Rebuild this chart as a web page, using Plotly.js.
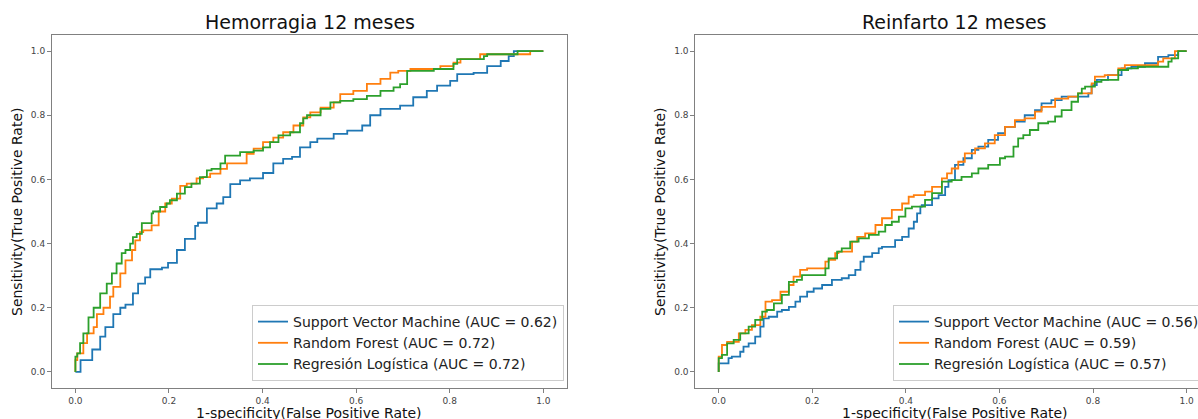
<!DOCTYPE html>
<html>
<head>
<meta charset="utf-8">
<script src="https://cdn.plot.ly/plotly-3.0.1.min.js"></script>
<style>
html, body { margin: 0; padding: 0; background: #fff; overflow: hidden; }
#chart { width: 1230px; height: 419px; }
</style>
</head>
<body>
<div id="chart"></div>
<script>
// ---- Data ----
const panelTitles = ["Hemorragia 12 meses", "Reinfarto 12 meses"];
const seriesNames = ["Support Vector Machine", "Random Forest", "Regresión Logística"];
const hemAuc = [0.62, 0.72, 0.72];
const reiAuc = [0.56, 0.59, 0.57];
const tickVals = [0, 0.2, 0.4, 0.6, 0.8, 1.0];

const hemSvmX = [0, 0.011, 0.011, 0.036, 0.053, 0.064, 0.081, 0.096, 0.107, 0.123, 0.134, 0.149, 0.16, 0.185, 0.198, 0.217, 0.234, 0.256, 0.262, 0.281, 0.302, 0.316, 0.331, 0.352, 0.373, 0.401, 0.423, 0.444, 0.463, 0.48, 0.502, 0.517, 0.552, 0.581, 0.613, 0.63, 0.652, 0.694, 0.722, 0.751, 0.773, 0.801, 0.816, 0.851, 0.88, 0.909, 0.926, 0.937, 0.948, 1.0];
const hemSvmY = [0, 0, 0.037, 0.037, 0.07, 0.11, 0.14, 0.18, 0.20, 0.21, 0.245, 0.275, 0.295, 0.32, 0.325, 0.34, 0.38, 0.415, 0.455, 0.465, 0.51, 0.525, 0.545, 0.585, 0.597, 0.603, 0.62, 0.65, 0.664, 0.67, 0.70, 0.716, 0.727, 0.742, 0.752, 0.768, 0.80, 0.82, 0.83, 0.856, 0.876, 0.892, 0.907, 0.928, 0.932, 0.953, 0.969, 0.984, 1.0, 1.0];

const hemRfX = [0, 0.004, 0.017, 0.025, 0.039, 0.046, 0.06, 0.074, 0.081, 0.096, 0.107, 0.121, 0.128, 0.138, 0.145, 0.163, 0.178, 0.192, 0.206, 0.224, 0.238, 0.259, 0.273, 0.288, 0.31, 0.324, 0.345, 0.366, 0.381, 0.401, 0.423, 0.444, 0.466, 0.487, 0.502, 0.524, 0.552, 0.566, 0.594, 0.623, 0.652, 0.673, 0.69, 0.716, 0.78, 0.808, 0.823, 0.865, 0.876, 0.972, 0.975, 1.0];
const hemRfY = [0, 0.037, 0.058, 0.09, 0.12, 0.14, 0.18, 0.20, 0.235, 0.265, 0.307, 0.348, 0.38, 0.41, 0.436, 0.441, 0.457, 0.50, 0.525, 0.54, 0.58, 0.587, 0.603, 0.607, 0.618, 0.633, 0.65, 0.65, 0.68, 0.696, 0.716, 0.73, 0.747, 0.768, 0.793, 0.809, 0.824, 0.84, 0.866, 0.876, 0.898, 0.913, 0.933, 0.938, 0.944, 0.953, 0.964, 0.975, 0.99, 0.99, 1.0, 1.0];

const hemLrX = [0, 0.004, 0.01, 0.017, 0.028, 0.039, 0.053, 0.067, 0.078, 0.088, 0.099, 0.107, 0.117, 0.123, 0.131, 0.142, 0.145, 0.163, 0.166, 0.181, 0.195, 0.202, 0.217, 0.234, 0.248, 0.266, 0.281, 0.291, 0.31, 0.32, 0.352, 0.381, 0.401, 0.416, 0.434, 0.459, 0.48, 0.487, 0.495, 0.524, 0.545, 0.566, 0.594, 0.623, 0.652, 0.68, 0.694, 0.709, 0.709, 0.766, 0.808, 0.816, 0.873, 0.88, 0.945, 0.948, 1.0];
const hemLrY = [0, 0.048, 0.058, 0.09, 0.12, 0.17, 0.20, 0.245, 0.275, 0.307, 0.338, 0.37, 0.38, 0.40, 0.42, 0.43, 0.464, 0.464, 0.494, 0.50, 0.514, 0.525, 0.535, 0.556, 0.576, 0.587, 0.607, 0.628, 0.633, 0.65, 0.674, 0.685, 0.69, 0.70, 0.716, 0.737, 0.747, 0.775, 0.79, 0.80, 0.82, 0.84, 0.845, 0.85, 0.86, 0.876, 0.887, 0.897, 0.933, 0.938, 0.944, 0.96, 0.975, 0.984, 0.99, 1.0, 1.0];

const reiSvmX = [0, 0.007, 0.021, 0.028, 0.046, 0.053, 0.064, 0.078, 0.089, 0.096, 0.107, 0.125, 0.135, 0.15, 0.164, 0.174, 0.189, 0.203, 0.221, 0.242, 0.263, 0.278, 0.292, 0.303, 0.31, 0.328, 0.342, 0.349, 0.377, 0.392, 0.406, 0.417, 0.424, 0.431, 0.434, 0.456, 0.47, 0.484, 0.491, 0.505, 0.523, 0.541, 0.555, 0.576, 0.597, 0.612, 0.633, 0.654, 0.676, 0.69, 0.711, 0.733, 0.754, 0.79, 0.797, 0.808, 0.832, 0.861, 0.882, 0.911, 0.939, 0.961, 0.982, 1.0];
const reiSvmY = [0, 0.027, 0.027, 0.043, 0.048, 0.063, 0.079, 0.089, 0.11, 0.141, 0.167, 0.172, 0.188, 0.193, 0.203, 0.219, 0.235, 0.25, 0.26, 0.271, 0.287, 0.292, 0.302, 0.318, 0.344, 0.359, 0.37, 0.385, 0.39, 0.411, 0.421, 0.447, 0.468, 0.494, 0.515, 0.52, 0.541, 0.551, 0.577, 0.598, 0.645, 0.666, 0.692, 0.702, 0.723, 0.744, 0.764, 0.78, 0.80, 0.816, 0.837, 0.847, 0.858, 0.858, 0.868, 0.894, 0.91, 0.925, 0.946, 0.951, 0.962, 0.982, 0.987, 1.0];

const reiRfX = [0, 0.007, 0.018, 0.028, 0.043, 0.057, 0.071, 0.089, 0.1, 0.114, 0.132, 0.15, 0.16, 0.174, 0.189, 0.228, 0.235, 0.249, 0.256, 0.285, 0.296, 0.313, 0.335, 0.349, 0.37, 0.392, 0.406, 0.417, 0.441, 0.456, 0.477, 0.488, 0.498, 0.512, 0.526, 0.548, 0.569, 0.59, 0.612, 0.633, 0.654, 0.676, 0.69, 0.719, 0.747, 0.768, 0.797, 0.804, 0.825, 0.854, 0.868, 0.882, 0.939, 0.95, 0.975, 1.0];
const reiRfY = [0, 0.048, 0.084, 0.094, 0.094, 0.12, 0.131, 0.146, 0.172, 0.219, 0.224, 0.25, 0.271, 0.297, 0.318, 0.323, 0.344, 0.349, 0.37, 0.375, 0.406, 0.421, 0.432, 0.458, 0.479, 0.505, 0.525, 0.546, 0.551, 0.562, 0.577, 0.603, 0.619, 0.634, 0.655, 0.681, 0.697, 0.712, 0.738, 0.764, 0.785, 0.79, 0.811, 0.826, 0.852, 0.858, 0.868, 0.899, 0.92, 0.925, 0.946, 0.956, 0.956, 0.967, 0.977, 1.0];

const reiLrX = [0, 0.007, 0.018, 0.032, 0.046, 0.064, 0.078, 0.093, 0.103, 0.118, 0.135, 0.15, 0.167, 0.178, 0.228, 0.235, 0.253, 0.263, 0.281, 0.299, 0.321, 0.342, 0.356, 0.37, 0.385, 0.399, 0.413, 0.441, 0.456, 0.477, 0.498, 0.519, 0.541, 0.555, 0.576, 0.601, 0.612, 0.63, 0.64, 0.651, 0.665, 0.683, 0.704, 0.719, 0.733, 0.754, 0.768, 0.776, 0.783, 0.804, 0.818, 0.854, 0.875, 0.896, 0.918, 0.961, 0.968, 0.982, 1.0];
const reiLrY = [0, 0.043, 0.053, 0.089, 0.1, 0.12, 0.141, 0.162, 0.188, 0.193, 0.214, 0.24, 0.281, 0.287, 0.302, 0.323, 0.354, 0.375, 0.385, 0.406, 0.416, 0.427, 0.437, 0.458, 0.468, 0.484, 0.51, 0.515, 0.536, 0.557, 0.593, 0.598, 0.608, 0.619, 0.634, 0.645, 0.666, 0.671, 0.702, 0.728, 0.738, 0.754, 0.775, 0.78, 0.796, 0.816, 0.842, 0.868, 0.883, 0.889, 0.904, 0.91, 0.941, 0.946, 0.951, 0.951, 0.967, 0.977, 1.0];

// ---- Styling ----
const colors = ["#1f77b4", "#ff7f0e", "#2ca02c"];
const FONT = "DejaVu Sans, Liberation Sans, sans-serif";
const W = 1230, H = 419;
const L = 52, R = 20, T = 35, B = 31;
const PW = W - L - R, PH = H - T - B;
const px = p => (p - L) / PW;       // pixel x -> paper x
const py = p => (H - B - p) / PH;   // pixel y -> paper y

function mk(x, y, i, auc, xa, ya, leg) {
  return {
    x: x, y: y, xaxis: xa, yaxis: ya, legend: leg,
    type: "scatter", mode: "lines",
    line: { color: colors[i], width: 1.8, shape: "vh" },
    name: seriesNames[i] + " (AUC = " + auc[i].toFixed(2) + ")",
    hoverinfo: "skip"
  };
}

const traces = [
  mk(hemSvmX, hemSvmY, 0, hemAuc, "x", "y", "legend"),
  mk(hemRfX, hemRfY, 1, hemAuc, "x", "y", "legend"),
  mk(hemLrX, hemLrY, 2, hemAuc, "x", "y", "legend"),
  mk(reiSvmX, reiSvmY, 0, reiAuc, "x2", "y2", "legend2"),
  mk(reiRfX, reiRfY, 1, reiAuc, "x2", "y2", "legend2"),
  mk(reiLrX, reiLrY, 2, reiAuc, "x2", "y2", "legend2")
];

function axis(domain, anchor) {
  return {
    domain: domain, anchor: anchor,
    range: [-0.05, 1.05],
    tickvals: tickVals, tickformat: ".1f",
    ticks: "outside", ticklen: 4, tickwidth: 1, tickcolor: "#808080",
    tickfont: { family: FONT, size: 9, color: "#444" },
    showline: true, mirror: true, linecolor: "#808080", linewidth: 1,
    showgrid: false, zeroline: false, fixedrange: true
  };
}

const leftFrame = [px(52), px(566.7)];
const rightFrame = [px(695.3), px(1210)];

const legendStyle = {
  bgcolor: "rgba(255,255,255,0.85)", bordercolor: "#cccccc", borderwidth: 1,
  font: { family: FONT, size: 14, color: "#222" },
  itemwidth: 30, tracegroupgap: 0,
  yanchor: "bottom", y: py(381)
};

const annFont = (s) => ({ family: FONT, size: s, color: "#111" });
const annotations = [
  { text: panelTitles[0], x: px(310), y: py(22), xref: "paper", yref: "paper", showarrow: false, xanchor: "center", yanchor: "middle", font: annFont(19) },
  { text: panelTitles[1], x: px(954), y: py(22), xref: "paper", yref: "paper", showarrow: false, xanchor: "center", yanchor: "middle", font: annFont(19) },
  { text: "1-specificity(False Positive Rate)", x: px(309), y: py(404), xref: "paper", yref: "paper", showarrow: false, xanchor: "center", yanchor: "top", borderpad: 0, font: annFont(14) },
  { text: "1-specificity(False Positive Rate)", x: px(955), y: py(404), xref: "paper", yref: "paper", showarrow: false, xanchor: "center", yanchor: "top", borderpad: 0, font: annFont(14) },
  { text: "Sensitivity(True Positive Rate)", x: px(17), y: py(212), xref: "paper", yref: "paper", showarrow: false, xanchor: "center", yanchor: "middle", textangle: -90, font: annFont(14) },
  { text: "Sensitivity(True Positive Rate)", x: px(660), y: py(212), xref: "paper", yref: "paper", showarrow: false, xanchor: "center", yanchor: "middle", textangle: -90, font: annFont(14) }
];

const layout = {
  width: W, height: H,
  margin: { l: L, r: R, t: T, b: B },
  paper_bgcolor: "#ffffff", plot_bgcolor: "#ffffff",
  font: { family: FONT, color: "#222" },
  xaxis: axis(leftFrame, "y"),
  yaxis: axis([0, 1], "x"),
  xaxis2: axis(rightFrame, "y2"),
  yaxis2: axis([0, 1], "x2"),
  showlegend: true,
  legend: Object.assign({}, legendStyle, { x: px(564), xanchor: "right" }),
  legend2: Object.assign({}, legendStyle, { x: px(893), xanchor: "left" }),
  annotations: annotations
};

Plotly.newPlot("chart", traces, layout, { staticPlot: true, displayModeBar: false });
</script>
</body>
</html>
